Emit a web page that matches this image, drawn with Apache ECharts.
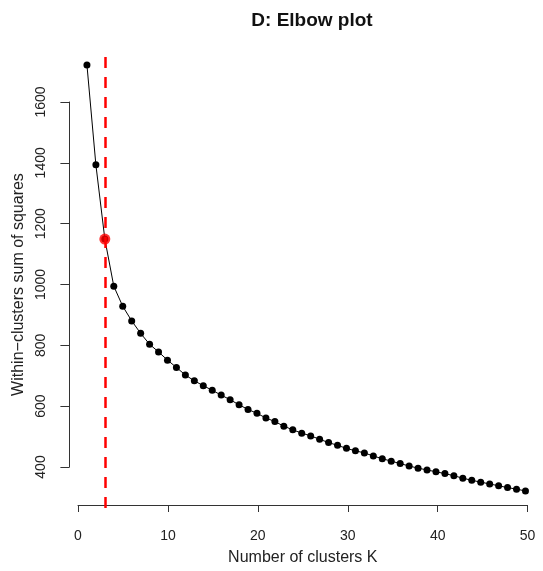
<!DOCTYPE html>
<html>
<head>
<meta charset="utf-8">
<script src="https://cdn.jsdelivr.net/npm/echarts@6/dist/echarts.min.js"></script>
<style>
html, body { margin: 0; padding: 0; background: #fff; }
#elbow { width: 543px; height: 571px; }
</style>
</head>
<body>
<div id="elbow"></div>
<script>
// number of clusters K and the within-cluster sum of squares
var clusterK = [1, 2, 3, 4, 5, 6, 7, 8, 9, 10,
    11, 12, 13, 14, 15, 16, 17, 18, 19, 20,
    21, 22, 23, 24, 25, 26, 27, 28, 29, 30,
    31, 32, 33, 34, 35, 36, 37, 38, 39, 40,
    41, 42, 43, 44, 45, 46, 47, 48, 49, 50];
var wss = [1722, 1394, 1150, 995, 929, 881, 840, 804, 779, 752,
    728, 703, 684, 668, 653, 637, 622, 605, 590, 577,
    562, 550, 535, 523, 512, 503, 492, 481, 472, 462,
    454, 447, 437, 428, 420, 412, 404, 397, 391, 385,
    379, 372, 364, 357, 351, 345, 339, 333, 328, 322];
var elbowK = 3;
var xTicks = [0, 10, 20, 30, 40, 50];
var yTicks = [400, 600, 800, 1000, 1200, 1400, 1600];

var font = 'Liberation Sans, Arial, Helvetica, sans-serif';
var ink = '#222';

var points = [];
for (var i = 0; i < clusterK.length; i++) {
    points.push([clusterK[i], wss[i]]);
}
var elbowPoint = [[elbowK, wss[clusterK.indexOf(elbowK)]]];

var myChart = echarts.init(document.getElementById('elbow'));

var option = {
    animation: false,
    backgroundColor: '#fff',
    title: {
        text: 'D: Elbow plot',
        left: 307,
        textAlign: 'center',
        top: 6,
        textStyle: { fontFamily: font, fontSize: 19, fontWeight: 'bold', color: '#111' }
    },
    grid: [
        // plotting region (R usr coordinates, padded 4%)
        { left: 69.4, top: 51, width: 476, height: 457 },
        // x axis drawn only over 0..50
        { left: 78, top: 51, width: 449.6, height: 455 },
        // y axis drawn only over 400..1600
        { left: 69.4, top: 102, width: 400, height: 365 }
    ],
    xAxis: [
        { gridIndex: 0, type: 'value', min: -0.96, max: 51.96, show: false },
        {
            gridIndex: 1, type: 'value', min: xTicks[0], max: xTicks[xTicks.length - 1], interval: 10,
            position: 'bottom',
            name: 'Number of clusters K', nameLocation: 'middle', nameGap: 45,
            nameTextStyle: { fontFamily: font, fontSize: 16, color: ink },
            axisLine: { show: true, onZero: false, lineStyle: { color: '#333', width: 1 } },
            axisTick: { show: true, inside: false, length: 7, lineStyle: { color: '#333' } },
            axisLabel: { margin: 24, fontFamily: font, fontSize: 14, color: ink },
            splitLine: { show: false }
        },
        { gridIndex: 2, type: 'value', min: 0, max: 1, show: false }
    ],
    yAxis: [
        { gridIndex: 0, type: 'value', min: 266, max: 1768, show: false },
        { gridIndex: 1, type: 'value', min: 0, max: 1, show: false },
        {
            gridIndex: 2, type: 'value', min: yTicks[0], max: yTicks[yTicks.length - 1], interval: 200,
            position: 'left',
            name: 'Within\u2212clusters sum of squares', nameLocation: 'middle', nameGap: 31,
            nameTextStyle: { fontFamily: font, fontSize: 16, color: ink },
            axisLine: { show: true, onZero: false, lineStyle: { color: '#333', width: 1 } },
            axisTick: { show: true, inside: false, length: 9, lineStyle: { color: '#333' } },
            axisLabel: {
                rotate: 90, margin: 21, fontFamily: font, fontSize: 14, color: ink,
                formatter: function (v) { return String(v); }
            },
            splitLine: { show: false }
        }
    ],
    series: [
        {
            name: 'wss',
            type: 'line',
            xAxisIndex: 0,
            yAxisIndex: 0,
            data: points,
            symbol: 'circle',
            symbolSize: 7,
            itemStyle: { color: '#000' },
            lineStyle: { color: '#000', width: 1 },
            markLine: {
                silent: true,
                symbol: ['none', 'none'],
                label: { show: false },
                lineStyle: { color: '#ff0000', width: 2.5, type: [11, 9] },
                data: [{ xAxis: elbowK }]
            },
            z: 3
        },
        {
            name: 'elbow',
            type: 'scatter',
            xAxisIndex: 0,
            yAxisIndex: 0,
            data: elbowPoint,
            symbol: 'circle',
            symbolSize: 11,
            itemStyle: { color: '#ff0000' },
            z: 4
        }
    ]
};

myChart.setOption(option);
</script>
</body>
</html>
